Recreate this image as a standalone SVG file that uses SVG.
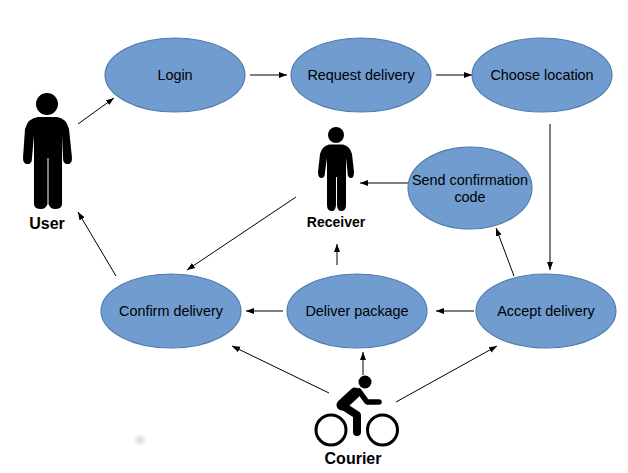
<svg xmlns="http://www.w3.org/2000/svg" width="628" height="473" viewBox="0 0 628 473">
<style>
.n{fill:#709cd0;stroke:#4f7aab;stroke-width:1.1}
.t{font-family:"Liberation Sans",Arial,sans-serif;font-size:14.4px;fill:#000;text-anchor:middle}
.b{font-weight:bold}
.c{fill:none;stroke:#000;stroke-width:1;marker-end:url(#a)}
.k{fill:#000;stroke:none}
.s{fill:none;stroke:#000;stroke-linecap:round;stroke-linejoin:round}
</style>
<defs>
<marker id="a" markerUnits="userSpaceOnUse" markerWidth="10" markerHeight="8" refX="8" refY="3.5" orient="auto"><path d="M0 0.5L8 3.5L0 6.5Z" fill="#000"/></marker>
<radialGradient id="g"><stop offset="0" stop-color="#d8d8d8"/><stop offset="1" stop-color="#fff"/></radialGradient>
</defs>
<rect width="628" height="473" fill="#fff"/>
<circle cx="140" cy="440" r="7" fill="url(#g)"/>
<g id="connectors">
<path class="c" d="M78 124L114 98"/>
<path class="c" d="M250 75L287 75"/>
<path class="c" d="M436 75L472 75"/>
<path class="c" d="M550 124L550 270"/>
<path class="c" d="M474 311L436 311"/>
<path class="c" d="M283 311L246 311"/>
<path class="c" d="M514 276L496 228"/>
<path class="c" d="M408 183L360 183"/>
<path class="c" d="M337 265L337 244"/>
<path class="c" d="M296 197L187 270"/>
<path class="c" d="M116 276L78 212"/>
<path class="c" d="M329 393L232 346"/>
<path class="c" d="M363 375L363 352"/>
<path class="c" d="M396 402L497 346"/>
</g>
<g id="login"><ellipse class="n" cx="175" cy="75" rx="70" ry="37"/><text class="t" x="175" y="80">Login</text></g>
<g id="request"><ellipse class="n" cx="361" cy="75" rx="70" ry="37"/><text class="t" x="361" y="80">Request delivery</text></g>
<g id="choose"><ellipse class="n" cx="542" cy="75" rx="70" ry="37"/><text class="t" x="542" y="80">Choose location</text></g>
<g id="send"><ellipse class="n" cx="470" cy="188" rx="62" ry="41"/><text class="t" x="470" y="185">Send confirmation</text><text class="t" x="470" y="202">code</text></g>
<g id="accept"><ellipse class="n" cx="546" cy="311" rx="70" ry="37"/><text class="t" x="546" y="316">Accept delivery</text></g>
<g id="deliver"><ellipse class="n" cx="357" cy="311" rx="70" ry="37"/><text class="t" x="357" y="316">Deliver package</text></g>
<g id="confirm"><ellipse class="n" cx="171" cy="311" rx="70" ry="37"/><text class="t" x="171" y="316">Confirm delivery</text></g>
<g id="user">
<circle class="k" cx="47" cy="104" r="11"/>
<path class="k" d="M38 117H57Q66 118 69 129L72 158Q72 164 67.500 164Q63 164 63 158L62 135V204Q62 209 55 209Q50 209 48.500 204V158H47.500V204Q46 209 41 209Q34 209 34 204V135L32 158Q32 164 27.500 164Q23 164 23 158L25 129Q28 118 38 117Z"/>
<text class="t b" x="47" y="229" style="font-size:16px">User</text>
</g>
<g id="receiver">
<circle class="k" cx="336" cy="135" r="8"/>
<path class="k" d="M329 144.500H343Q350 146 352 154L354 172Q354 178 351 178Q347.500 178 347.500 172L346 158V205Q346 211 341 211Q337.500 211 337 205V177H336V205Q335.500 211 332 211Q327 211 327 205V158L325 172Q325 178 321.500 178Q318 178 318 172L320 154Q322 146 329 144.500Z"/>
<text class="t b" x="336" y="227" style="font-size:14px">Receiver</text>
</g>
<g id="courier">
<circle class="k" cx="365" cy="382" r="6.500"/>
<path class="s" d="M355 393L342 405" stroke-width="11"/>
<path class="s" d="M343 406L357 415V432" stroke-width="8"/>
<path class="s" d="M359 391L367 402H379" stroke-width="5.500"/>
<circle class="s" cx="331" cy="430" r="15" stroke-width="3"/>
<circle class="s" cx="382.500" cy="430" r="15" stroke-width="3"/>
<text class="t b" x="353" y="464" style="font-size:16px">Courier</text>
</g>
</svg>
